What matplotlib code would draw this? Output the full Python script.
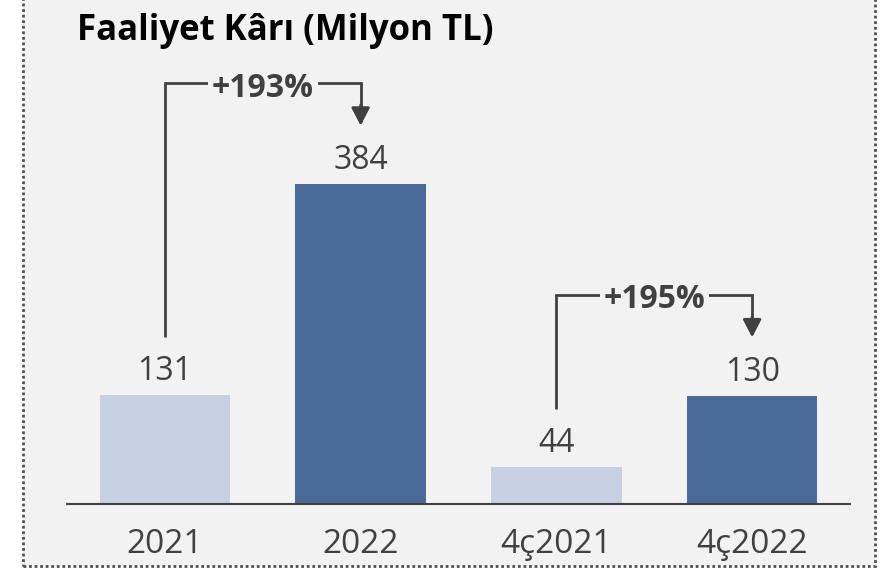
import matplotlib
matplotlib.use("Agg")
import matplotlib.pyplot as plt
from matplotlib.patches import Rectangle

plt.rcParams['font.family'] = ['Open Sans', 'DejaVu Sans']

categories = ["2021", "2022", "4ç2021", "4ç2022"]
values = [131, 384, 44, 130]
bar_colors = ["#c5d0e2", "#4a6a99", "#c5d0e2", "#4a6a99"]
changes = [("+193%", 0, 1), ("+195%", 2, 3)]
title = "Faaliyet Kârı (Milyon TL)"

BG = "#f2f2f2"
TXT = "#404040"

W, H = 891, 571
fig = plt.figure(figsize=(W / 100, H / 100), dpi=100)
fig.patch.set_facecolor("white")

# panel background with dotted border
panel = Rectangle((22.5 / W, 5 / H), (875 - 22.5) / W, 1.2, transform=fig.transFigure,
                  facecolor=BG, edgecolor="#505050", linestyle=(0, (1, 1)), linewidth=2.0,
                  zorder=-5)
fig.patches.append(panel)

ax = fig.add_axes([67 / W, 67 / H, 783 / W, 484 / H])
ax.set_zorder(2)
ax.set_facecolor("none")
ax.bar(range(len(values)), values, width=0.667, color=bar_colors, zorder=2)
ax.set_xlim(-0.5, 3.5)
ax.set_ylim(0, 484 / (320 / 384))

for s in ["top", "right", "left"]:
    ax.spines[s].set_visible(False)
ax.spines["bottom"].set_color(TXT)
ax.spines["bottom"].set_linewidth(1.5)
ax.set_yticks([])
ax.set_xticks(range(len(categories)))
ax.set_xticklabels(categories, fontsize=24, color=TXT)
ax.tick_params(axis="x", length=0, pad=17)

for i, v in enumerate(values):
    ax.annotate(str(v), (i, v), xytext=(0, 10.8), textcoords="offset points",
                ha="center", va="baseline", fontsize=23, color=TXT)

for label, a, b in changes:
    start = values[a] + 70
    tip = values[b] + 70
    top = max(values[a], values[b]) + 121
    ax.plot([a, a, b, b], [start, top, top, tip + 5], color=TXT, lw=2, zorder=3,
            solid_capstyle="butt", solid_joinstyle="miter")
    ax.annotate("", xy=(b, tip), xytext=(b, tip + 25),
                arrowprops=dict(arrowstyle="-|>,head_length=1.08,head_width=0.56",
                                color=TXT, lw=2, shrinkA=0, shrinkB=0), zorder=4)
    ax.annotate(label, ((a + b) / 2, top), xytext=(0, -9.8), textcoords="offset points",
                ha="center", va="baseline", fontsize=23, fontweight="bold", color=TXT,
                zorder=5,
                bbox=dict(boxstyle="square,pad=0.12", facecolor=BG, edgecolor="none"))

fig.text(77 / W, 1 - 40 / H, title, ha="left", va="baseline", fontsize=25,
         fontweight="bold", color="black", zorder=3)

fig.savefig("out.png", dpi=100, facecolor=fig.get_facecolor())
